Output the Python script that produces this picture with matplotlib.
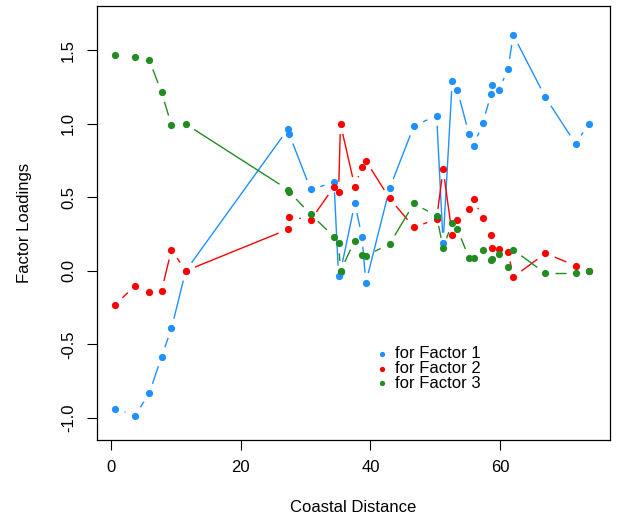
import numpy as np
import matplotlib
matplotlib.use("Agg")
import matplotlib.pyplot as plt

# ---- data ----
dist = [0.7, 3.75, 5.95, 7.84, 9.37, 11.56, 27.3, 27.5, 30.8, 34.4, 35.1, 35.4,
        37.6, 38.7, 39.3, 42.96, 46.7, 50.2, 51.2, 52.6, 53.4, 55.2, 55.9, 57.3,
        58.6, 58.7, 59.8, 61.2, 62.0, 66.95, 71.6, 73.6]
factor1 = [-0.937, -0.984, -0.832, -0.583, -0.391, 0.0, 0.963, 0.929, 0.553, 0.601,
           -0.033, -0.006, 0.459, 0.232, -0.081, 0.560, 0.984, 1.054, 0.191, 1.289,
           1.226, 0.927, 0.850, 1.002, 1.203, 1.260, 1.228, 1.373, 1.602, 1.179,
           0.863, 0.997]
factor2 = [-0.230, -0.101, -0.142, -0.135, 0.143, 0.0, 0.282, 0.368, 0.345, 0.571,
           0.537, 0.997, 0.571, 0.707, 0.748, 0.492, 0.295, 0.352, 0.690, 0.245,
           0.345, 0.420, 0.490, 0.357, 0.243, 0.153, 0.148, 0.130, -0.042, 0.119,
           0.035, 0.0]
factor3 = [1.466, 1.455, 1.432, 1.213, 0.990, 0.997, 0.552, 0.537, 0.384, 0.232,
           0.187, 0.0, 0.205, 0.107, 0.103, 0.182, 0.458, 0.372, 0.157, 0.327,
           0.284, 0.085, 0.085, 0.143, 0.071, 0.082, 0.112, 0.024, 0.143, -0.017,
           -0.017, 0.0]
series = [factor1, factor2, factor3]
labels = ["for Factor 1", "for Factor 2", "for Factor 3"]
colors = ["#1E90FF", "#FF0000", "#228B22"]
xticks = [0, 20, 40, 60]
yticks = [-1.0, -0.5, 0.0, 0.5, 1.0, 1.5]

plt.rcParams['font.family'] = ['Liberation Sans', 'DejaVu Sans']
FS = 12

W, H = 618, 517
fig = plt.figure(figsize=(W / 100, H / 100), dpi=100)
L, R, T, B = 97, 610, 6, 440
ax = fig.add_axes([L / W, 1 - B / H, (R - L) / W, (B - T) / H])
ax.set_xlim(-2.1, 76.9)
ax.set_ylim(-1.149, 1.799)

GAP = 10  # pixels of blank space around each point (R type="b")


def gapped_line(ax, x, y, color):
    pts = ax.transData.transform(np.column_stack([x, y]))
    inv = ax.transData.inverted()
    for p0, p1 in zip(pts[:-1], pts[1:]):
        d = p1 - p0
        ln = np.hypot(d[0], d[1])
        if ln <= 2 * GAP:
            continue
        u = d / ln
        seg = inv.transform(np.array([p0 + u * GAP, p1 - u * GAP]))
        ax.plot(seg[:, 0], seg[:, 1], color=color, lw=1.0, solid_capstyle='butt')


for vals, col in zip(series, colors):
    gapped_line(ax, dist, vals, col)
    ax.plot(dist, vals, linestyle='none', marker='o', ms=5.2, color=col, mec='none')

ax.set_xticks(xticks)
ax.set_xticklabels([str(v) for v in xticks])
ax.set_yticks(yticks)
ax.set_yticklabels([f"{v:.1f}" for v in yticks], rotation=90, va='center')
ax.tick_params(direction='out', length=7.2, width=0.8, labelsize=FS, color='black')
ax.tick_params(axis='x', pad=7)
ax.tick_params(axis='y', pad=8)
for s in ax.spines.values():
    s.set_linewidth(0.9)

fig.text((L + R) / 2 / W, 1 - 507 / H, "Coastal Distance", ha='center', va='center', fontsize=FS)
fig.text(25 / W, 1 - (T + B) / 2 / H, "Factor Loadings", ha='center', va='center',
         rotation=90, fontsize=FS)

# legend (no box)
leg_y = [354, 368.5, 383]
for yy, lab, col in zip(leg_y, labels, colors):
    fig.lines.append(plt.Line2D([382 / W], [1 - yy / H], marker='o', ms=3.8, color=col,
                                mec='none', linestyle='none', transform=fig.transFigure))
    fig.text(395 / W, 1 - yy / H, lab, ha='left', va='center', fontsize=FS)

fig.savefig("out.png", dpi=100)
